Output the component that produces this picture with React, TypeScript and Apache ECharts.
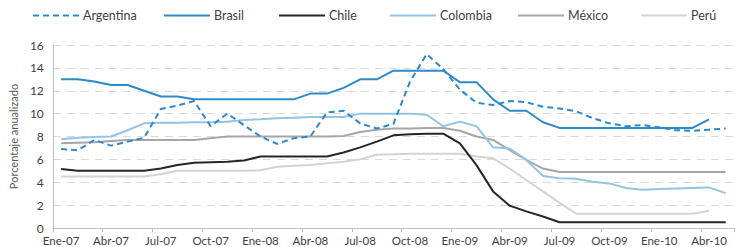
import React, { useEffect, useRef } from "react";
import * as echarts from "echarts";

const monthNames = ["Ene", "Feb", "Mar", "Abr", "May", "Jun", "Jul", "Ago", "Sep", "Oct", "Nov", "Dic"];
const years = ["07", "08", "09", "10"];
const monthCount = 41;
const categories: string[] = [];
for (let i = 0; i < monthCount; i++) {
  categories.push(monthNames[i % 12] + "-" + years[Math.floor(i / 12)]);
}

const yTicks = { min: 0, max: 16, interval: 2 };

const argentina = [6.9, 6.8, 7.7, 7.2, 7.55, 7.9, 10.4, 10.7, 11.1, 8.9, 10.0, 9.0, 8.0, 7.35, 7.85, 8.0, 10.1, 10.25, 9.15, 8.7, 9.1, 12.8, 15.2, 13.9, 12.1, 10.95, 10.75, 11.1, 11.0, 10.6, 10.45, 10.2, 9.6, 9.15, 8.9, 9.0, 8.8, 8.55, 8.5, 8.6, 8.7];
const brasil = [13, 13, 12.8, 12.5, 12.5, 12, 11.5, 11.5, 11.25, 11.25, 11.25, 11.25, 11.25, 11.25, 11.25, 11.75, 11.75, 12.25, 13, 13, 13.75, 13.75, 13.75, 13.75, 12.75, 12.75, 11.25, 10.25, 10.25, 9.25, 8.75, 8.75, 8.75, 8.75, 8.75, 8.75, 8.75, 8.75, 8.75, 9.5, null];
const chile = [5.15, 5.0, 5.0, 5.0, 5.0, 5.0, 5.2, 5.5, 5.7, 5.75, 5.8, 5.9, 6.25, 6.25, 6.25, 6.25, 6.25, 6.6, 7.05, 7.55, 8.1, 8.2, 8.25, 8.25, 7.4, 5.5, 3.2, 1.95, 1.45, 1.0, 0.5, 0.5, 0.5, 0.5, 0.5, 0.5, 0.5, 0.5, 0.5, 0.5, 0.5];
const colombia = [7.75, 7.9, 7.95, 8.0, 8.55, 9.15, 9.2, 9.2, 9.25, 9.25, 9.3, 9.45, 9.5, 9.6, 9.65, 9.7, 9.7, 9.7, 10.0, 10.0, 10.0, 10.0, 9.9, 8.9, 9.3, 8.9, 7.05, 6.95, 5.95, 4.55, 4.35, 4.3, 4.05, 3.9, 3.5, 3.35, 3.4, 3.45, 3.5, 3.55, 3.05];
const mexico = [7.4, 7.45, 7.5, 7.6, 7.7, 7.7, 7.7, 7.7, 7.7, 7.85, 8.0, 8.0, 8.0, 8.0, 8.0, 8.0, 8.0, 8.05, 8.4, 8.6, 8.7, 8.7, 8.75, 8.75, 8.5, 8.0, 7.7, 6.8, 5.95, 5.2, 4.9, 4.9, 4.9, 4.9, 4.9, 4.9, 4.9, 4.9, 4.9, 4.9, 4.9];
const peru = [4.5, 4.5, 4.5, 4.5, 4.5, 4.5, 4.7, 5.0, 5.0, 5.0, 5.0, 5.0, 5.05, 5.35, 5.45, 5.5, 5.65, 5.8, 6.0, 6.4, 6.45, 6.5, 6.5, 6.5, 6.5, 6.25, 6.1, 5.2, 4.2, 3.2, 2.2, 1.25, 1.25, 1.25, 1.25, 1.25, 1.25, 1.25, 1.25, 1.5, null];

const seriesNames = ["Argentina", "Brasil", "Chile", "Colombia", "México", "Perú"];
const seriesData = [argentina, brasil, chile, colombia, mexico, peru];
const seriesColors = ["#2F89C9", "#2F89C9", "#262626", "#93C4E6", "#A6A6A6", "#D3D3D3"];
const seriesDash = ["dashed", "solid", "solid", "solid", "solid", "solid"];
const seriesWidth = [2, 2, 2, 2, 2, 2];
const legendLeft = [32, 163, 278, 389, 517, 640];

const FONT = "Lato";

export default function App() {
  const ref = useRef<HTMLDivElement>(null);
  useEffect(() => {
    if (!ref.current) return;
    const chart = echarts.init(ref.current, undefined, { renderer: "svg" });
    const legends = seriesNames.map((name, i) => ({
      data: [name],
      left: legendLeft[i],
      top: 9,
      itemWidth: 46,
      itemHeight: 12,
      itemGap: 5,
      itemStyle: { opacity: 0 },
      textStyle: { fontFamily: FONT, fontSize: 12.5, color: "#404040", padding: [0, 0, 0, -1] },
      padding: 0,
    }));
    chart.setOption({
      animation: false,
      backgroundColor: "#ffffff",
      legend: legends,
      grid: { left: 51, right: 1, top: 45, bottom: 19, containLabel: false },
      xAxis: {
        type: "category",
        data: categories,
        boundaryGap: true,
        axisLine: { lineStyle: { color: "#BFBFBF", width: 1 } },
        axisTick: { show: true, interval: 2, length: 4, lineStyle: { color: "#BFBFBF" } },
        axisLabel: { interval: 2, fontFamily: FONT, fontSize: 11.5, color: "#404040", margin: 6 },
        splitLine: { show: false },
      },
      yAxis: {
        type: "value",
        min: yTicks.min,
        max: yTicks.max,
        interval: yTicks.interval,
        name: "Porcentaje anualizado",
        nameLocation: "middle",
        nameGap: 31,
        nameRotate: 90,
        nameTextStyle: { fontFamily: FONT, fontSize: 11, color: "#595959" },
        axisLine: { show: true, lineStyle: { color: "#BFBFBF", width: 1 } },
        axisTick: { show: false },
        axisLabel: { fontFamily: FONT, fontSize: 12, color: "#404040", margin: 9 },
        splitLine: { show: true, lineStyle: { color: "#D9D9D9", type: [8, 6], width: 1 } },
      },
      series: seriesNames.map((name, i) => ({
        name,
        type: "line",
        data: seriesData[i],
        symbol: "none",
        showSymbol: false,
        connectNulls: false,
        z: 10 - i,
        lineStyle: {
          color: seriesColors[i],
          width: seriesWidth[i],
          type: seriesDash[i] === "dashed" ? [6, 4] : "solid",
        },
        itemStyle: { color: seriesColors[i] },
      })),
    });
    return () => chart.dispose();
  }, []);
  return (
    <div
      ref={ref}
      style={{ position: "fixed", left: 0, top: 0, width: 735, height: 247, background: "#fff" }}
    />
  );
}
